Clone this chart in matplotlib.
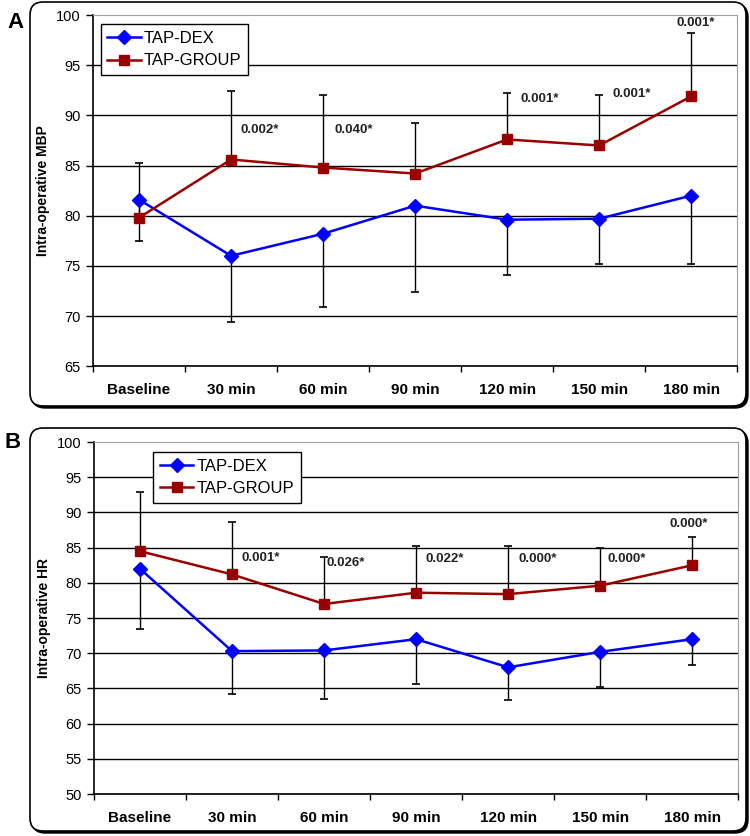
import matplotlib
matplotlib.use("Agg")
import matplotlib.pyplot as plt
from matplotlib.patches import FancyBboxPatch

plt.rcParams["font.family"] = ["Liberation Sans", "DejaVu Sans"]

# === Données ===
temps = ["Baseline", "30 min", "60 min", "90 min", "120 min", "150 min", "180 min"]

# Panel A : MBP
mbp_dex = [81.6, 76.0, 78.2, 81.0, 79.6, 79.7, 82.0]
mbp_dex_bas = [77.5, 69.4, 70.9, 72.4, 74.1, 75.2, 75.2]
mbp_grp = [79.8, 85.6, 84.8, 84.2, 87.6, 87.0, 91.9]
mbp_grp_haut = [85.3, 92.4, 92.0, 89.2, 92.2, 92.0, 98.2]
mbp_p = ["0.002*", "0.040*", "0.001*", "0.001*", "0.001*"]
mbp_p_x = [1.1, 2.12, 4.15, 5.14, 6.05]
mbp_p_y = [88.5, 88.5, 91.6, 92.1, 99.2]

# Panel B : HR
hr_dex = [82.0, 70.3, 70.4, 72.0, 68.0, 70.2, 72.0]
hr_dex_bas = [73.5, 64.2, 63.5, 65.6, 63.3, 65.2, 68.4]
hr_grp = [84.5, 81.2, 77.0, 78.6, 78.4, 79.6, 82.5]
hr_grp_haut = [92.9, 88.7, 83.7, 85.3, 85.3, 84.9, 86.5]
hr_p = ["0.001*", "0.026*", "0.022*", "0.000*", "0.000*", "0.000*"]
hr_p_x = [1.1, 2.03, 3.1, 4.11, 5.08, 5.96]
hr_p_y = [83.5, 82.8, 83.35, 83.35, 83.35, 88.3]

BLEU = "#0000ff"
ROUGE = "#990000"

fig = plt.figure(figsize=(7.5, 8.36), dpi=100)


def cadre(x0, y0, x1, y1):
    # coordonnées en pixels depuis le haut -> pouces depuis le bas
    H = 8.36
    ombre = FancyBboxPatch((x0 / 100 + 0.02, H - y1 / 100 - 0.02), (x1 - x0) / 100, (y1 - y0) / 100,
                           boxstyle="round,pad=0,rounding_size=0.13", transform=fig.dpi_scale_trans,
                           facecolor="black", edgecolor="black", lw=1, zorder=-2)
    boite = FancyBboxPatch((x0 / 100, H - y1 / 100), (x1 - x0) / 100, (y1 - y0) / 100,
                           boxstyle="round,pad=0,rounding_size=0.13", transform=fig.dpi_scale_trans,
                           facecolor="white", edgecolor="black", lw=1.2, zorder=-1)
    fig.patches.append(ombre)
    fig.patches.append(boite)


def panneau(ax, dex, dex_bas, grp, grp_haut, ylim, ylabel, pvals, px, py, leg_pos):
    x = list(range(len(temps)))
    ax.plot(x, dex, "-D", color=BLEU, lw=1.8, markersize=7.5, label="TAP-DEX", zorder=4)
    ax.plot(x, grp, "-s", color=ROUGE, lw=1.8, markersize=6.5, label="TAP-GROUP", zorder=4)

    # barres d'erreur unilatérales
    ax.vlines(x, dex_bas, dex, color="black", lw=1, zorder=3)
    ax.plot(x, dex_bas, "_", color="black", markersize=6, mew=1.2, zorder=3)
    ax.vlines(x, grp, grp_haut, color="black", lw=1, zorder=3)
    ax.plot(x, grp_haut, "_", color="black", markersize=6, mew=1.2, zorder=3)

    for t, xx, yy in zip(pvals, px, py):
        ha = "center" if xx > 5.9 else "left"
        ax.text(xx, yy, t, ha=ha, va="center", fontsize=9.5, fontweight="bold", color="#222222")

    ax.set_xlim(-0.5, len(temps) - 0.5)
    ax.set_ylim(*ylim)
    ax.set_yticks(range(ylim[0], ylim[1] + 1, 5))
    ax.set_xticks([i - 0.5 for i in range(len(temps) + 1)])
    ax.set_xticklabels([])
    ax.set_xticks(x, minor=True)
    ax.set_xticklabels(temps, minor=True, fontsize=11, fontweight="bold")
    ax.tick_params(axis="x", which="minor", length=0, pad=12)
    ax.tick_params(axis="x", which="major", length=4, width=1, direction="out")
    ax.tick_params(axis="y", length=5, width=1, pad=4, labelsize=10.5, colors="black")

    ax.yaxis.grid(True, color="black", lw=1)
    ax.get_ygridlines()[-1].set_visible(False)
    ax.set_axisbelow(True)
    for s in ["top", "right"]:
        ax.spines[s].set_color("#a0a0a0")
    for s in ["left", "bottom"]:
        ax.spines[s].set_linewidth(1.2)

    ax.set_ylabel(ylabel, fontsize=10, fontweight="bold", labelpad=4)
    leg = ax.legend(loc="upper left", bbox_to_anchor=leg_pos, borderaxespad=0,
                    fancybox=False, edgecolor="black", fontsize=12, framealpha=1,
                    handlelength=2.0, borderpad=0.4, labelspacing=0.45, handletextpad=0.2)
    leg.get_frame().set_linewidth(1)


cadre(30, 2, 746, 406)
cadre(30, 428, 746, 831)

axA = fig.add_axes([0.124, 0.562, 0.859, 0.420])
panneau(axA, mbp_dex, mbp_dex_bas, mbp_grp, mbp_grp_haut, (65, 100),
        "Intra-operative MBP", mbp_p, mbp_p_x, mbp_p_y, (0.012, 0.974))

axB = fig.add_axes([0.1253, 0.0502, 0.859, 0.421])
panneau(axB, hr_dex, hr_dex_bas, hr_grp, hr_grp_haut, (50, 100),
        "Intra-operative HR", hr_p, hr_p_x, hr_p_y, (0.092, 0.972))

fig.text(15 / 750, 1 - 23 / 836, "A", fontsize=16, fontweight="bold", ha="center", va="center")
fig.text(13 / 750, 1 - 442 / 836, "B", fontsize=16, fontweight="bold", ha="center", va="center")

fig.savefig("out.png", dpi=100)
